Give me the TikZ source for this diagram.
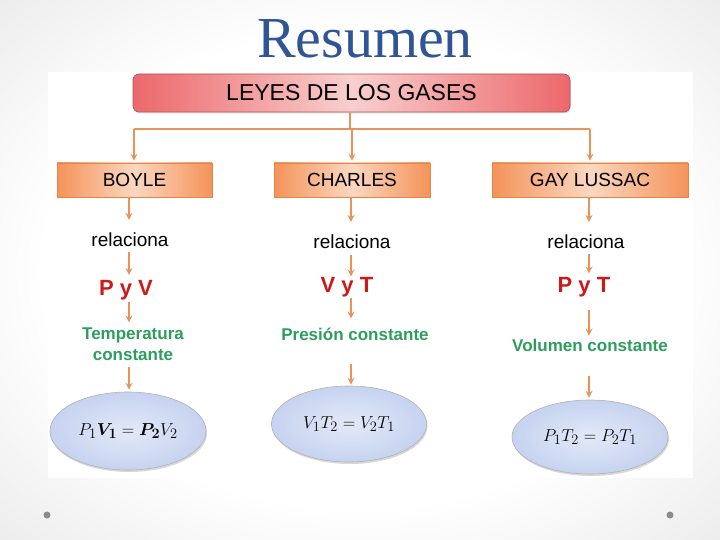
\documentclass[tikz,border=0pt]{standalone}
\usepackage{amsmath}
\usepackage{fontspec}
\setmainfont{Liberation Sans}
\newfontfamily\titlefont{Liberation Serif}
\usetikzlibrary{arrows.meta,shapes.geometric,shadows}
\definecolor{ttl}{HTML}{2F5597}
\definecolor{arrc}{HTML}{E8935A}
\definecolor{redE}{HTML}{EC686B}
\definecolor{redM}{HTML}{F9CFCF}
\definecolor{redB}{HTML}{A85555}
\definecolor{orE}{HTML}{F5935A}
\definecolor{orM}{HTML}{FBD7C0}
\definecolor{orB}{HTML}{E48548}
\definecolor{grn}{HTML}{2E9E5E}
\definecolor{rd}{HTML}{CC1A1A}
\definecolor{blE}{HTML}{C6D3F0}
\definecolor{blM}{HTML}{E3E9F8}
\definecolor{bgA}{HTML}{FFFFFF}
\definecolor{bgB}{HTML}{D9D9D9}
\definecolor{bgC}{HTML}{CFCFCF}
\pgfdeclareradialshading{bgshade}{\pgfpoint{0bp}{0bp}}{color(0bp)=(bgA); color(22bp)=(bgA); color(50bp)=(bgB); color(75bp)=(bgC)}
\tikzset{
  conn/.style={draw=arrc, line width=1.6pt},
  arr/.style={conn, -{Stealth[length=7pt,width=7pt,inset=2.5pt]}},
  topbox/.style={draw=redB, line width=0.6pt, rounded corners=6pt, left color=redE, right color=redE, middle color=redM,
     minimum width=437pt, minimum height=38pt, inner sep=0pt, font=\fontsize{23}{23}\selectfont,
     drop shadow={opacity=0.25, shadow xshift=1pt, shadow yshift=-1.5pt}},
  lawbox/.style={draw=orB, line width=0.6pt, left color=orE, right color=orE, middle color=orM,
     minimum height=34pt, inner sep=0pt, font=\fontsize{19}{19}\selectfont,
     drop shadow={opacity=0.25, shadow xshift=1pt, shadow yshift=-1.5pt}},
  rel/.style={inner sep=0pt, font=\fontsize{19}{19}\selectfont},
  vars/.style={inner sep=0pt, text=rd, font=\fontsize{22}{22}\selectfont\bfseries},
  cond/.style={inner sep=0pt, text=grn, align=center, font=\fontsize{17}{21}\selectfont\bfseries},
  ell/.style={ellipse, draw=black!30, line width=0.6pt, inner color=blM, outer color=blE, inner sep=0pt,
     font=\fontsize{19}{19}\selectfont,
     drop shadow={opacity=0.3, shadow xshift=1pt, shadow yshift=-2pt}},
  dot/.style={circle, fill=black!45, inner sep=0pt, minimum size=7pt}
}
\begin{document}
\begin{tikzpicture}[x=1pt,y=-1pt]
\useasboundingbox (0,0) rectangle (720,540);
\shade[shading=bgshade] (0,0) rectangle (720,540);
\fill[white] (48,72) rectangle (693,478);
% title
\node[text=ttl, anchor=base] (title) at (365,58) {\titlefont\fontsize{58}{58}\selectfont Resumen};
% top box
\node[topbox] (leyes) at (351.5,93) {LEYES DE LOS GASES};
% law boxes
\node[lawbox, minimum width=155pt] (boyle) at (134.5,180) {BOYLE};
\node[lawbox, minimum width=156pt] (charles) at (352,180) {CHARLES};
\node[lawbox, minimum width=196pt] (gay) at (590,180) {GAY LUSSAC};
% distribution connector
\coordinate (split) at (350,129);
\coordinate (jl) at (134,129);
\coordinate (jm) at (352,129);
\coordinate (jr) at (590,129);
\draw[conn] (leyes.south -| split) -- (split);
\draw[conn] (jl) -- (jr);
\draw[arr, shorten >=2pt] (jl) -- (boyle.north -| jl);
\draw[arr, shorten >=2pt] (jm) -- (charles.north -| jm);
\draw[arr, shorten >=2pt] (jr) -- (gay.north -| jr);
% column x references
\coordinate (c1) at (129,0);
\coordinate (c2) at (351,0);
\coordinate (c3) at (589,0);
% column 1
\node[rel] (rel1) at (130,239.5) {relaciona};
\node[vars] (p1) at (126,290) {P y V};
\node[cond] (t1) at (133,344.5) {Temperatura\\constante};
\node[ell, minimum width=156pt, minimum height=78pt] (e1) at (128,431) {$P_1\boldsymbol{V_1} = \boldsymbol{P_2}V_2$};
% column 2
\node[rel] (rel2) at (352,241.5) {relaciona};
\node[vars] (p2) at (347,287.5) {V y T};
\node[cond] (t2) at (355,334) {Presión constante};
\node[ell, minimum width=155pt, minimum height=76pt] (e2) at (349,424) {$V_1T_2 = V_2T_1$};
% column 3
\node[rel] (rel3) at (586,241.5) {relaciona};
\node[vars] (p3) at (584,287.5) {P y T};
\node[cond] (t3) at (590,345) {Volumen constante};
\node[ell, minimum width=156pt, minimum height=74pt] (e3) at (590,437) {$P_1T_2 = P_2T_1$};
% column arrows
\draw[arr, shorten >=12.5pt] (boyle.south -| c1) -- (rel1.north -| c1);
\draw[arr, shorten <=5.5pt, shorten >=5pt] (rel1.south -| c1) -- (p1.north -| c1);
\draw[arr, shorten <=2pt, shorten >=5.5pt] (p1.south -| c1) -- (t1.north -| c1);
\draw[arr, shorten <=5.5pt, shorten >=2pt] (t1.south -| c1) -- (e1.north -| c1);
\draw[arr, shorten >=12.5pt] (charles.south -| c2) -- (rel2.north -| c2);
\draw[arr, shorten <=6.5pt, shorten >=1pt] (rel2.south -| c2) -- (p2.north -| c2);
\draw[arr, shorten <=0pt, shorten >=9pt] (p2.south -| c2) -- (t2.north -| c2);
\draw[arr, shorten <=23pt, shorten >=1pt] (t2.south -| c2) -- (e2.north -| c2);
\draw[arr, shorten >=12.5pt] (gay.south -| c3) -- (rel3.north -| c3);
\draw[arr, shorten <=5.5pt, shorten >=4pt] (rel3.south -| c3) -- (p3.north -| c3);
\draw[arr, shorten <=12pt, shorten >=3pt] (p3.south -| c3) -- (t3.north -| c3);
\draw[arr, shorten <=25pt, shorten >=2pt] (t3.south -| c3) -- (e3.north -| c3);
% slide dots
\node[dot] (dl) at (47,515) {};
\node[dot] (dr) at (670,515) {};
\end{tikzpicture}
\end{document}
